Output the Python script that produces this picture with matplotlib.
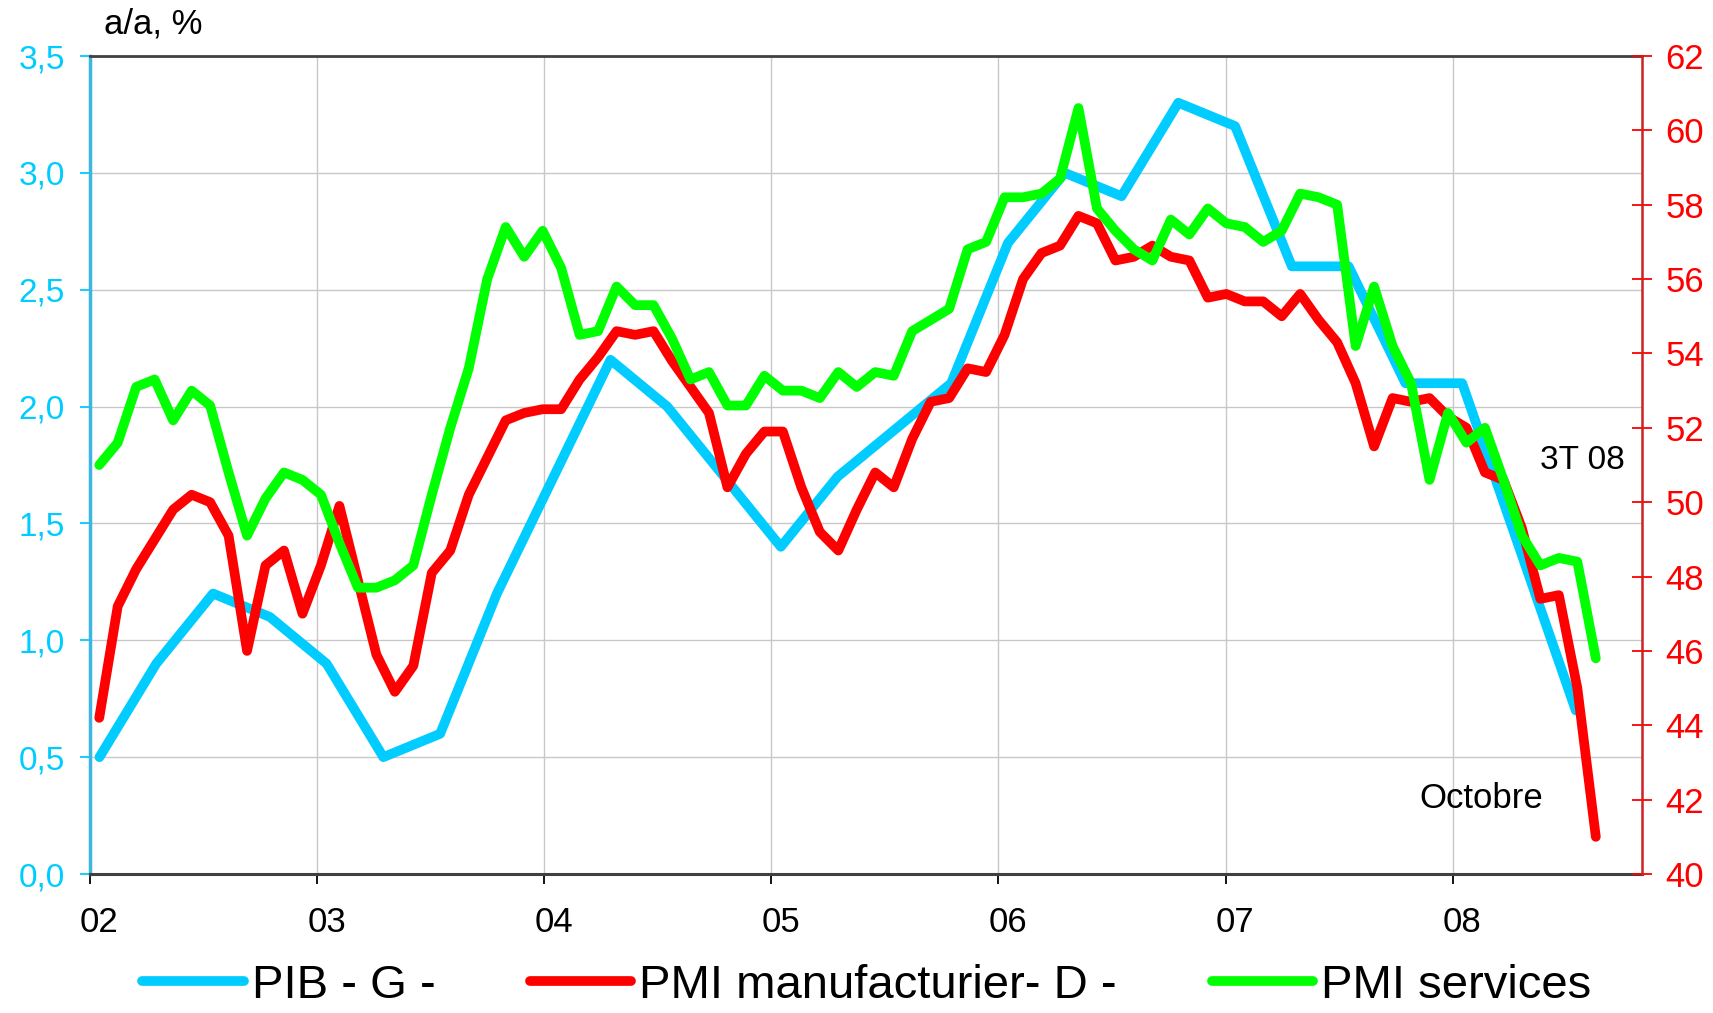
import matplotlib.pyplot as plt
import numpy as np

plt.rcParams['font.family'] = ['Liberation Sans', 'DejaVu Sans']

# PIB a/a %, trimestriel T1 2002 - T3 2008 (axe gauche)
pib = [0.5, 0.9, 1.2, 1.1, 0.9, 0.5, 0.6, 1.2, 1.7, 2.2, 2.0, 1.7, 1.4, 1.7,
       1.9, 2.1, 2.7, 3.0, 2.9, 3.3, 3.2, 2.6, 2.6, 2.1, 2.1, 1.4, 0.7]

# PMI mensuels, janv. 2002 - oct. 2008 (axe droit)
pmi_manuf = [44.2, 47.2, 48.2, 49.0, 49.8, 50.2, 50.0, 49.1, 46.0, 48.3, 48.7, 47.0,
             48.3, 49.9, 47.9, 45.9, 44.9, 45.6, 48.1, 48.7, 50.2, 51.2, 52.2, 52.4,
             52.5, 52.5, 53.3, 53.9, 54.6, 54.5, 54.6, 53.8, 53.1, 52.4, 50.4, 51.3,
             51.9, 51.9, 50.4, 49.2, 48.7, 49.8, 50.8, 50.4, 51.7, 52.7, 52.8, 53.6,
             53.5, 54.5, 56.0, 56.7, 56.9, 57.7, 57.5, 56.5, 56.6, 56.9, 56.6, 56.5,
             55.5, 55.6, 55.4, 55.4, 55.0, 55.6, 54.9, 54.3, 53.2, 51.5, 52.8, 52.7,
             52.8, 52.3, 52.0, 50.8, 50.6, 49.3, 47.4, 47.5, 45.0, 41.0]
pmi_serv = [51.0, 51.6, 53.1, 53.3, 52.2, 53.0, 52.6, 50.8, 49.1, 50.1, 50.8, 50.6,
            50.2, 48.9, 47.7, 47.7, 47.9, 48.3, 50.2, 52.0, 53.6, 56.0, 57.4, 56.6,
            57.3, 56.3, 54.5, 54.6, 55.8, 55.3, 55.3, 54.4, 53.3, 53.5, 52.6, 52.6,
            53.4, 53.0, 53.0, 52.8, 53.5, 53.1, 53.5, 53.4, 54.6, 54.9, 55.2, 56.8,
            57.0, 58.2, 58.2, 58.3, 58.7, 60.6, 57.9, 57.3, 56.8, 56.5, 57.6, 57.2,
            57.9, 57.5, 57.4, 57.0, 57.3, 58.3, 58.2, 58.0, 54.2, 55.8, 54.2, 53.2,
            50.6, 52.4, 51.6, 52.0, 50.6, 49.1, 48.3, 48.5, 48.4, 45.8]

years = ['02', '03', '04', '05', '06', '07', '08']
left_ticks = [0.0, 0.5, 1.0, 1.5, 2.0, 2.5, 3.0, 3.5]
left_labels = ['0,0', '0,5', '1,0', '1,5', '2,0', '2,5', '3,0', '3,5']
right_ticks = [40, 42, 44, 46, 48, 50, 52, 54, 56, 58, 60, 62]

n_months = 82          # axe principal : janv. 2002 -> oct. 2008
n_months_2 = 84        # axe secondaire : janv. 2002 -> dec. 2008

c_pib = '#00CCFF'
c_man = '#FF0000'
c_ser = '#00FF00'
lw = 7

fig = plt.figure(figsize=(17.13, 10.13), dpi=100)
rect = [90 / 1713, 1 - 874 / 1013, 1552 / 1713, 818 / 1013]
ax = fig.add_axes(rect)
ax2 = fig.add_axes(rect, label='pmi')
ax2.patch.set_visible(False)

# PIB trimestriel sur axe mensuel
x_pib = np.arange(len(pib)) * 3 + 0.5
l1, = ax.plot(x_pib, pib, color=c_pib, lw=lw, solid_joinstyle='round',
              solid_capstyle='round', label='PIB - G -')
ax.set_xlim(0, n_months)
ax.set_ylim(0, 3.5)

x_pmi = np.arange(len(pmi_manuf)) + 0.5
l2, = ax2.plot(x_pmi, pmi_manuf, color=c_man, lw=lw, solid_joinstyle='round',
               solid_capstyle='round', label='PMI manufacturier- D -')
l3, = ax2.plot(x_pmi, pmi_serv, color=c_ser, lw=lw, solid_joinstyle='round',
               solid_capstyle='round', label='PMI services')
ax2.set_xlim(0, n_months_2)
ax2.set_ylim(40, 62)

# axe x
ax.set_xticks(np.arange(len(years)) * 12)
ax.set_xticklabels([])
ax.set_xticks(np.arange(len(years)) * 12 + 0.5, minor=True)
ax.set_xticklabels(years, minor=True)
ax.tick_params(axis='x', which='major', direction='out', length=7, width=1.3, color='black')
ax.tick_params(axis='x', which='minor', length=0, pad=23, labelsize=25)

# axe gauche
ax.set_yticks(left_ticks)
ax.set_yticklabels(left_labels)
ax.tick_params(axis='y', direction='out', length=7, width=1.3, color=c_pib,
               labelcolor=c_pib, labelsize=24, pad=11)

# axe droit
ax2.xaxis.set_visible(False)
ax2.yaxis.tick_right()
ax2.set_yticks(right_ticks)
ax2.tick_params(axis='y', direction='inout', length=14, width=1.3, color='red',
                labelcolor='red', labelsize=25, pad=10)

ax.grid(True, color='#C8C8C8', lw=1)
ax.set_axisbelow(True)

ax.spines['right'].set_visible(False)
ax.spines['left'].set_color('#3AB6E0')
ax.spines['left'].set_linewidth(2.5)
ax.spines['top'].set_color('#404040')
ax.spines['top'].set_linewidth(2)
ax.spines['bottom'].set_color('#404040')
ax.spines['bottom'].set_linewidth(2.2)
for s in ['left', 'top', 'bottom']:
    ax2.spines[s].set_visible(False)
ax2.spines['right'].set_color('#CC2222')
ax2.spines['right'].set_linewidth(1.8)

fig.text(104 / 1713, 1 - 24 / 1013, 'a/a, %', fontsize=25, va='center', ha='left')
fig.text(1582 / 1713, 1 - 460 / 1013, '3T 08', fontsize=24, va='center', ha='center')
fig.text(1481 / 1713, 1 - 798 / 1013, 'Octobre', fontsize=25, va='center', ha='center')

fig.legend([l1, l2, l3], [l1.get_label(), l2.get_label(), l3.get_label()],
           loc='center', bbox_to_anchor=(0.506, 27 / 1013), ncol=3, frameon=False,
           fontsize=34, handlelength=2.15, handletextpad=0.17, columnspacing=2.0,
           borderaxespad=0, borderpad=0)

fig.savefig('out.png', dpi=100)
